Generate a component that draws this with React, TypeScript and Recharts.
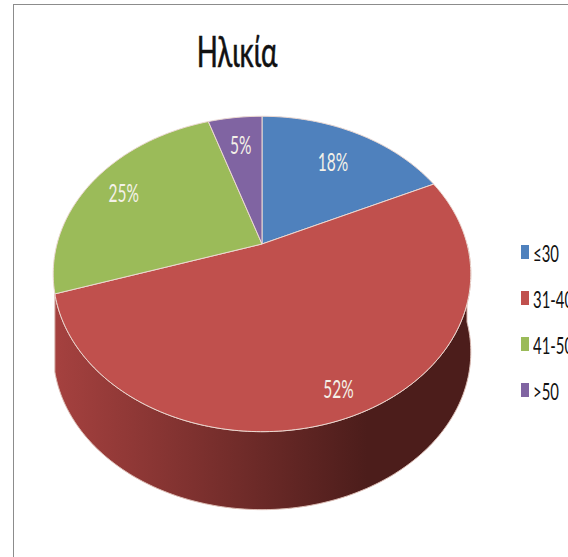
import { PieChart, Pie, Legend } from "recharts";

const categories = ["≤30", "31-40", "41-50", ">50"];
const shares = [18, 52, 25, 5];
const colors = ["#4f81bd", "#c0504d", "#9bbb59", "#8064a2"];
const wallMid = ["#3f6797", "#883533", "#7c9547", "#665082"];
const wallEnds = ["#2c4a6e", "#4c1d1b", "#5a6e32", "#4a3a5e"];
const labelRadii = [0.72, 0.86, 0.81, 0.76];

const data = categories.map((name, i) => ({
  name,
  value: shares[i],
  fill: colors[i],
}));

// the pie lies tilted, so the far side is narrower than the near side
const TILT = 0.19;
const SQUASH = 152;
const DEPTH = 78;
const RAD = Math.PI / 180;
const FONT = "Lato, sans-serif";

function project(cx: number, cy: number, r: number, deg: number, radius: number) {
  const u = Math.cos(deg * RAD) * radius;
  const v = Math.sin(deg * RAD) * radius;
  const w = 1 + TILT * v;
  return { x: cx + (r * u) / w, y: cy - (SQUASH * v) / w };
}

function arcPoints(cx: number, cy: number, r: number, from: number, to: number) {
  const pts = [];
  const steps = Math.max(2, Math.ceil(Math.abs(to - from)));
  for (let i = 0; i <= steps; i++) {
    pts.push(project(cx, cy, r, from + ((to - from) * i) / steps, 1));
  }
  return pts;
}

const toPath = (pts: { x: number; y: number }[]) =>
  pts.map((p, i) => `${i ? "L" : "M"}${p.x.toFixed(2)} ${p.y.toFixed(2)}`).join(" ");

function TopFace(props: any) {
  const { cx, cy, outerRadius, startAngle, endAngle, fill } = props;
  const pts = arcPoints(cx, cy, outerRadius, startAngle, endAngle);
  return (
    <path
      d={`M${cx} ${cy} ${toPath(pts).replace("M", "L")} Z`}
      fill={fill}
      stroke="#ecd9d2"
      strokeWidth={1}
    />
  );
}

function WallFace(props: any) {
  const { cx, cy, outerRadius, startAngle, endAngle, index } = props;
  // only the near part of the rim can be seen
  const hi = Math.max(startAngle, endAngle);
  const lo = Math.min(startAngle, endAngle);
  const ranges: [number, number][] = [];
  for (const [a, b] of [[-162, 0], [198, 360]]) {
    const from = Math.max(lo, a);
    const to = Math.min(hi, b);
    if (to > from) ranges.push([from, to]);
  }
  return (
    <g>
      {ranges.map(([from, to]) => {
        const top = arcPoints(cx, cy, outerRadius, from, to);
        const bottom = top.map((p) => ({ x: p.x, y: p.y + DEPTH })).reverse();
        return (
          <path
            key={from}
            d={`${toPath(top)} ${toPath(bottom).replace("M", "L")} Z`}
            fill={`url(#wall-${index})`}
            stroke="#dcbcb4"
            strokeWidth={1}
          />
        );
      })}
    </g>
  );
}

function PercentLabel(props: any) {
  const { cx, cy, outerRadius, midAngle, value, index } = props;
  const p = project(cx, cy, outerRadius, midAngle, labelRadii[index]);
  return (
    <text
      transform={`translate(${p.x} ${p.y}) scale(0.62 1)`}
      fill="#f4f1e8"
      textAnchor="middle"
      dominantBaseline="central"
      fontFamily={FONT}
      fontSize={25}
    >
      {value}%
    </text>
  );
}

function LegendList({ payload }: any) {
  // both pies report their slices, keep each name once
  const items = categories.map((name) => (payload || []).find((p: any) => p.value === name)).filter(Boolean);
  return (
    <div style={{ fontFamily: FONT, fontSize: 24, color: "#111" }}>
      {items.map((item: any) => (
        <div key={item.value} style={{ display: "flex", alignItems: "center", height: 46, whiteSpace: "nowrap" }}>
          <span style={{ width: 8, height: 14, background: item.color, marginRight: 4, flex: "none" }} />
          <span style={{ transform: "scaleX(0.62)", transformOrigin: "left center" }}>{item.value}</span>
        </div>
      ))}
    </div>
  );
}

export default function App() {
  return (
    <div
      style={{
        position: "fixed",
        left: 0,
        top: 0,
        width: 568,
        height: 557,
        overflow: "hidden",
        background: "#fff",
      }}
    >
      <div style={{ position: "absolute", left: 13, top: 4, right: 0, bottom: 0, borderLeft: "1px solid #8c8c8c", borderTop: "1px solid #8c8c8c" }} />
      <div
        style={{
          position: "absolute",
          left: 137,
          width: 200,
          top: 26,
          textAlign: "center",
          fontFamily: FONT,
          fontSize: 42,
          lineHeight: "50px",
          color: "#111",
          WebkitTextStroke: "0.6px #111",
          transform: "scaleX(0.66)",
        }}
      >
        Ηλικία
      </div>
      <PieChart width={568} height={557} margin={{ top: 0, right: 0, bottom: 0, left: 0 }} style={{ position: "absolute" }}>
        <defs>
          {wallEnds.map((end, i) => (
            <linearGradient key={i} id={`wall-${i}`} gradientUnits="userSpaceOnUse" x1="55" y1="0" x2="471" y2="0">
              <stop offset="0%" stopColor={i === 1 ? "#a5413f" : colors[i]} />
              <stop offset="25%" stopColor={wallMid[i]} />
              <stop offset="75%" stopColor={end} />
              <stop offset="100%" stopColor={end} />
            </linearGradient>
          ))}
        </defs>
        <Pie
          data={data}
          dataKey="value"
          nameKey="name"
          cx={262}
          cy={244}
          outerRadius={205}
          startAngle={90}
          endAngle={-270}
          stroke="none"
          legendType="none"
          isAnimationActive={false}
          shape={WallFace}
          inactiveShape={WallFace}
          activeShape={WallFace}
          label={false}
          labelLine={false}
        />
        <Pie
          data={data}
          dataKey="value"
          nameKey="name"
          cx={262}
          cy={244}
          outerRadius={205}
          startAngle={90}
          endAngle={-270}
          isAnimationActive={false}
          shape={TopFace}
          inactiveShape={TopFace}
          activeShape={TopFace}
          label={PercentLabel}
          labelLine={false}
        />
        <Legend
          layout="vertical"
          itemSorter={null}
          content={LegendList}
          wrapperStyle={{ position: "absolute", left: 521, top: 229, width: 90, height: 184, bottom: "auto", right: "auto" }}
        />
      </PieChart>
    </div>
  );
}
